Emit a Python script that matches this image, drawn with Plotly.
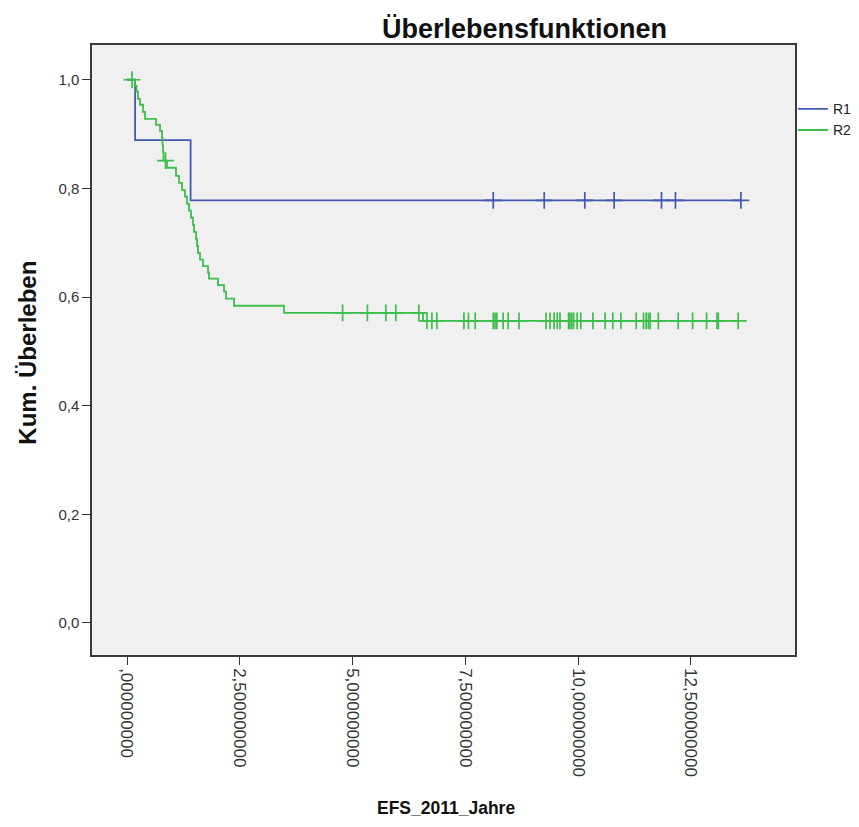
import plotly.graph_objects as go
import bisect

# ---------------- data ----------------
x_tick_vals = [0, 2.5, 5, 7.5, 10, 12.5]
x_tick_text = [",000000000", "2,500000000", "5,000000000", "7,500000000", "10,000000000", "12,500000000"]
y_tick_vals = [0, 0.2, 0.4, 0.6, 0.8, 1.0]
y_tick_text = ["0,0", "0,2", "0,4", "0,6", "0,8", "1,0"]

# R1: event times and survival after each event
r1_event_times = [0.18, 1.41]
r1_surv = [0.889, 0.778]
r1_censor_times = [8.12, 9.25, 10.15, 10.80, 11.85, 12.16, 13.61]

# R2
r2_event_times = [0.177, 0.21, 0.244, 0.288, 0.355, 0.399, 0.643, 0.732, 0.776, 0.787,
                  0.798, 0.809, 0.887, 1.086, 1.153, 1.220, 1.286, 1.330, 1.375, 1.419,
                  1.463, 1.486, 1.530, 1.552, 1.574, 1.619, 1.685, 1.796, 1.818, 2.018,
                  2.151, 2.195, 2.373, 3.481, 6.563]
r2_surv = [0.989, 0.978, 0.965, 0.954, 0.941, 0.928, 0.917, 0.906, 0.893, 0.880,
           0.867, 0.851, 0.838, 0.823, 0.810, 0.797, 0.785, 0.772, 0.759, 0.746,
           0.733, 0.720, 0.707, 0.694, 0.681, 0.669, 0.657, 0.645, 0.634, 0.622,
           0.610, 0.597, 0.584, 0.571, 0.556]
r2_censor_times = [0.11, 0.854, 4.78, 5.33, 5.74, 5.96, 6.47,
                   6.65, 6.76, 6.87, 7.47, 7.57, 7.72, 8.12, 8.16, 8.20, 8.34, 8.45, 8.69,
                   9.29, 9.38, 9.47, 9.54, 9.60, 9.79, 9.82, 9.86, 9.90, 9.98, 10.06,
                   10.33, 10.60, 10.77, 10.95, 11.29, 11.45, 11.51, 11.56, 11.60, 11.78,
                   12.22, 12.54, 12.85, 13.08, 13.11, 13.55]

groups = ["R1", "R2"]
colors = {"R1": "#4359B0", "R2": "#3DBE4A"}


def step_path(ev_t, surv, cens):
    xs = [0.0] + list(ev_t)
    ys = [1.0] + list(surv)
    end = max(cens + ev_t)
    xs.append(end)
    ys.append(ys[-1])
    return xs, ys


def surv_at(t, ev_t, surv):
    i = bisect.bisect_right(ev_t, t)
    return 1.0 if i == 0 else surv[i - 1]


series = {
    "R1": (r1_event_times, r1_surv, r1_censor_times),
    "R2": (r2_event_times, r2_surv, r2_censor_times),
}

fig = go.Figure()
for g in groups:
    ev_t, surv, cens = series[g]
    xs, ys = step_path(ev_t, surv, cens)
    fig.add_trace(go.Scatter(x=xs, y=ys, mode="lines", line_shape="hv",
                             line=dict(color=colors[g], width=1.8), name=g,
                             legendgroup=g))
    fig.add_trace(go.Scatter(x=cens, y=[surv_at(t, ev_t, surv) for t in cens],
                             mode="markers",
                             marker=dict(symbol="cross-thin", size=12,
                                         line=dict(color=colors[g], width=1.7)),
                             showlegend=False, legendgroup=g, hoverinfo="skip"))

font = "Liberation Sans, Arial, sans-serif"
fig.update_layout(
    width=859, height=827,
    margin=dict(l=92, r=64, t=45, b=172, autoexpand=False),
    paper_bgcolor="white",
    plot_bgcolor="#F0F0F0",
    font=dict(family=font, size=15, color="#333333"),
    showlegend=True,
    legend=dict(x=0.997, xanchor="left", y=0.921, yanchor="top",
                bgcolor="rgba(0,0,0,0)", font=dict(size=14, color="#222222"),
                itemwidth=30, tracegroupgap=0),
    xaxis=dict(range=[-0.776, 14.81], tickvals=x_tick_vals, ticktext=x_tick_text,
               tickangle=90, ticks="outside", ticklen=8, tickcolor="#333333",
               showgrid=False, zeroline=False, showline=True, linecolor="#3a3a3a",
               linewidth=1.5, mirror=True, tickfont=dict(size=17, color="#333333")),
    yaxis=dict(range=[-0.059, 1.064], tickvals=y_tick_vals, ticktext=y_tick_text,
               ticks="outside", ticklen=8, tickcolor="#333333",
               showgrid=False, zeroline=False, showline=True, linecolor="#3a3a3a",
               linewidth=1.5, mirror=True, tickfont=dict(size=15, color="#333333")),
    annotations=[
        dict(text="<b>Überlebensfunktionen</b>", xref="paper", yref="paper",
             x=0.615, y=1.027, xanchor="center", yanchor="middle", showarrow=False,
             font=dict(size=27, color="#111111", family=font)),
        dict(text="<b>Kum. Überleben</b>", xref="paper", yref="paper",
             x=-0.093, y=0.495, xanchor="center", yanchor="middle", showarrow=False,
             textangle=-90, font=dict(size=24, color="#111111", family=font)),
        dict(text="<b>EFS_2011_Jahre</b>", xref="paper", yref="paper",
             x=0.504, y=-0.251, xanchor="center", yanchor="middle", showarrow=False,
             font=dict(size=17.5, color="#111111", family=font)),
    ],
)

fig.write_html("out.html")
